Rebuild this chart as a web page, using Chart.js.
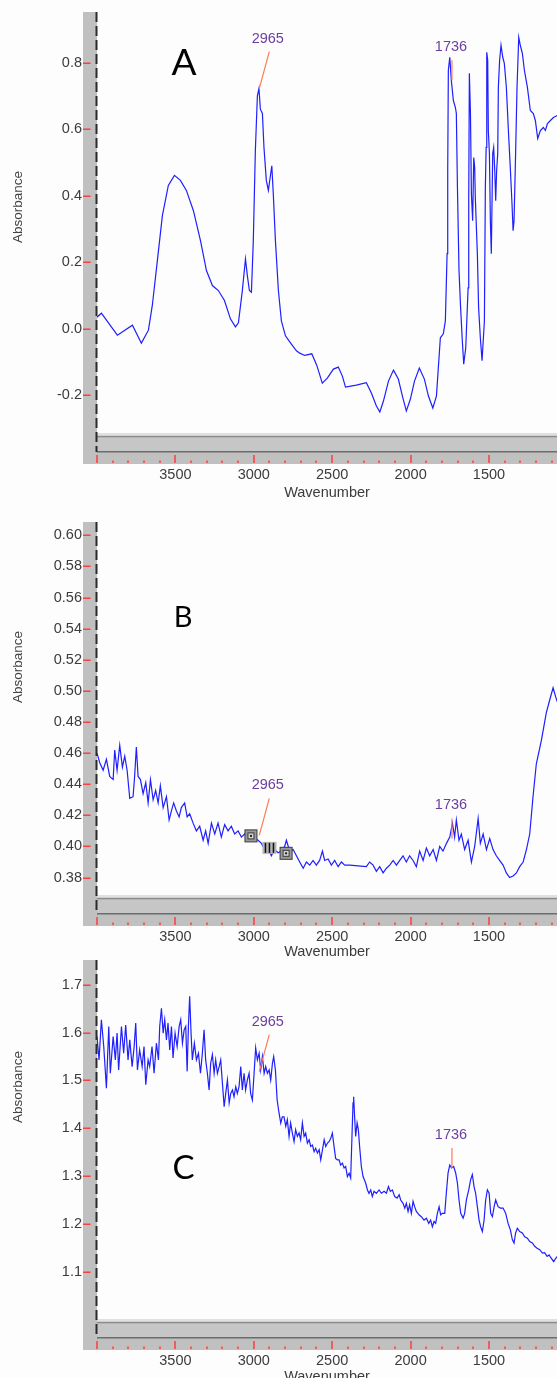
<!DOCTYPE html>
<html>
<head>
<meta charset="utf-8">
<title>IR spectra A, B, C</title>
<script src="https://cdn.jsdelivr.net/npm/chart.js@4.4.1/dist/chart.umd.min.js"></script>
<style>
  html, body { margin: 0; padding: 0; }
  body { width: 557px; height: 1378px; overflow: hidden; position: relative; background: #fdfdfd; }
  canvas { position: absolute; left: 0; }
</style>
</head>
<body>
<canvas id="chart-a" width="557" height="502" style="top:0px"></canvas>
<canvas id="chart-b" width="557" height="461" style="top:500px"></canvas>
<canvas id="chart-c" width="557" height="436" style="top:950px"></canvas>
<script>
// spectrum A
const wavenumbersA = [4000,3972,3870,3774,3717,3672,3647,3615,3583,3545,3506,3468,3430,3385,3340,3302,3264,3226,3187,3149,
  3117,3098,3073,3053,3041,3028,3015,3003,2990,2977,2967,2958,2945,2935,2920,2907,2894,2885,2875,2862,
  2843,2824,2798,2766,2728,2707,2675,2630,2598,2563,2531,2492,2461,2435,2415,2346,2282,2250,2218,2196,
  2173,2141,2109,2078,2052,2027,2001,1975,1944,1912,1886,1858,1835,1810,1791,1778,1767,1763,1759,1750,
  1740,1727,1714,1708,1701,1691,1682,1671,1661,1648,1633,1629,1625,1618,1612,1604,1597,1591,1587,1574,
  1566,1555,1544,1529,1523,1518,1514,1508,1504,1497,1491,1485,1476,1470,1463,1457,1451,1444,1440,1432,
  1423,1412,1402,1389,1376,1363,1353,1346,1340,1330,1321,1310,1300,1287,1274,1255,1236,1217,1204,1189,
  1172,1153,1140,1127,1108,1089,1064];
const absorbanceA = [0.035,0.047,-0.019,0.011,-0.043,-0.004,0.071,0.205,0.34,0.431,0.461,0.446,0.416,0.355,0.265,0.175,0.13,0.115,0.085,0.03,
  0.006,0.018,0.115,0.21,0.16,0.115,0.11,0.265,0.535,0.70,0.722,0.66,0.647,0.545,0.446,0.416,0.46,0.49,0.40,0.265,
  0.115,0.024,-0.021,-0.042,-0.066,-0.073,-0.08,-0.075,-0.11,-0.163,-0.148,-0.121,-0.115,-0.142,-0.175,-0.169,-0.162,-0.193,-0.232,-0.25,
  -0.217,-0.157,-0.124,-0.151,-0.202,-0.247,-0.211,-0.157,-0.118,-0.151,-0.202,-0.238,-0.202,-0.027,-0.015,0.024,0.226,0.476,0.777,0.816,
  0.747,0.686,0.665,0.647,0.425,0.175,0.075,-0.027,-0.106,-0.057,0.123,0.385,0.768,0.647,0.406,0.325,0.515,0.485,0.394,0.226,
  0.063,-0.027,-0.096,0.024,0.425,0.545,0.831,0.807,0.596,0.527,0.325,0.226,0.527,0.545,0.476,0.385,0.476,0.527,0.726,0.807,
  0.852,0.816,0.798,0.726,0.596,0.476,0.376,0.295,0.325,0.527,0.726,0.876,0.852,0.828,0.777,0.726,0.656,0.647,0.626,0.572,
  0.596,0.605,0.596,0.617,0.626,0.635,0.641];

// spectrum B
const wavenumbersB = [4000,3983,3961,3940,3919,3897,3887,3872,3855,3838,3823,3808,3791,3770,3760,3749,3738,3723,3706,3689,
  3674,3659,3642,3626,3610,3596,3578,3557,3540,3525,3511,3494,3476,3462,3441,3425,3409,3387,3366,3345,
  3323,3307,3291,3270,3249,3228,3207,3186,3164,3143,3122,3100,3079,3058,3036,3004,2973,2951,2930,2909,
  2888,2867,2845,2824,2803,2792,2771,2749,2728,2707,2685,2664,2643,2622,2601,2580,2562,2548,2526,2505,
  2484,2462,2441,2420,2388,2282,2261,2239,2218,2197,2175,2154,2133,2111,2090,2069,2048,2027,2006,1984,
  1963,1942,1920,1899,1878,1856,1835,1814,1793,1771,1750,1733,1719,1708,1691,1676,1655,1633,1612,1591,
  1569,1555,1537,1516,1495,1474,1453,1432,1410,1389,1368,1346,1325,1304,1282,1261,1240,1219,1198,1166,
  1134,1113,1091,1074,1064];
const absorbanceB = [0.460,0.454,0.449,0.456,0.445,0.443,0.462,0.449,0.465,0.451,0.458,0.449,0.431,0.432,0.445,0.464,0.445,0.443,0.434,0.441,
  0.428,0.443,0.430,0.436,0.428,0.439,0.425,0.432,0.417,0.423,0.428,0.423,0.419,0.425,0.428,0.419,0.421,0.415,0.410,0.413,
  0.404,0.410,0.402,0.415,0.408,0.415,0.406,0.414,0.410,0.413,0.408,0.410,0.406,0.408,0.405,0.406,0.404,0.402,0.398,0.399,
  0.394,0.398,0.396,0.397,0.400,0.404,0.397,0.398,0.394,0.390,0.386,0.390,0.388,0.391,0.388,0.391,0.397,0.391,0.392,0.388,
  0.391,0.387,0.390,0.388,0.388,0.387,0.390,0.388,0.384,0.387,0.383,0.386,0.388,0.391,0.388,0.391,0.394,0.390,0.394,0.391,
  0.387,0.397,0.391,0.399,0.394,0.398,0.391,0.400,0.397,0.402,0.406,0.415,0.406,0.417,0.404,0.408,0.398,0.404,0.390,0.400,
  0.418,0.402,0.408,0.398,0.405,0.398,0.394,0.391,0.388,0.383,0.380,0.381,0.383,0.387,0.390,0.398,0.408,0.432,0.453,0.468,
  0.486,0.494,0.502,0.496,0.493];

// spectrum C
const wavenumbersC = [4000,3987,3972,3957,3940,3925,3915,3897,3883,3872,3862,3844,3830,3817,3802,3791,3776,3763,3753,3742,
  3728,3712,3700,3689,3674,3664,3649,3636,3621,3608,3600,3589,3578,3568,3557,3547,3536,3525,3515,3502,
  3489,3476,3466,3455,3444,3434,3425,3417,3409,3400,3392,3379,3366,3353,3340,3328,3317,3307,3296,3285,
  3275,3264,3253,3243,3232,3221,3211,3200,3189,3179,3168,3157,3147,3136,3126,3115,3105,3094,3083,3073,
  3062,3052,3041,3030,3020,3009,2998,2988,2977,2966,2956,2945,2934,2924,2913,2902,2892,2881,2873,2862,
  2851,2839,2828,2818,2807,2796,2786,2775,2765,2754,2743,2733,2722,2711,2701,2690,2679,2669,2658,2647,
  2637,2626,2615,2605,2594,2583,2573,2562,2551,2541,2530,2520,2509,2499,2488,2478,2467,2456,2446,2435,
  2424,2414,2403,2392,2382,2373,2367,2363,2356,2350,2341,2333,2325,2314,2303,2286,2275,2265,2254,2244,
  2233,2218,2201,2186,2169,2154,2141,2129,2116,2101,2086,2073,2063,2048,2037,2027,2016,2006,1995,1984,
  1974,1963,1946,1931,1914,1899,1884,1872,1861,1850,1840,1829,1818,1808,1797,1782,1772,1761,1750,1738,
  1725,1712,1701,1691,1680,1665,1655,1644,1629,1617,1606,1595,1585,1574,1563,1553,1542,1531,1521,1510,
  1499,1489,1478,1467,1457,1442,1427,1410,1393,1378,1363,1351,1340,1330,1319,1304,1287,1272,1255,1240,
  1223,1208,1193,1176,1159,1145,1129,1117,1102,1087,1074,1064];
const absorbanceC = [1.592,1.543,1.627,1.571,1.484,1.613,1.515,1.592,1.543,1.599,1.522,1.613,1.557,1.616,1.543,1.585,1.529,1.571,1.620,1.522,
  1.564,1.529,1.571,1.491,1.543,1.529,1.571,1.515,1.578,1.543,1.613,1.651,1.599,1.627,1.585,1.620,1.564,1.613,1.547,1.599,
  1.571,1.613,1.627,1.578,1.606,1.613,1.519,1.613,1.676,1.599,1.543,1.578,1.543,1.557,1.515,1.557,1.606,1.543,1.515,1.480,
  1.536,1.554,1.515,1.543,1.515,1.529,1.543,1.494,1.445,1.473,1.501,1.453,1.473,1.480,1.466,1.487,1.473,1.487,1.529,1.480,
  1.515,1.480,1.501,1.515,1.473,1.459,1.515,1.568,1.543,1.557,1.522,1.550,1.515,1.529,1.515,1.522,1.501,1.536,1.550,1.522,
  1.459,1.432,1.411,1.424,1.424,1.404,1.418,1.383,1.411,1.390,1.372,1.397,1.383,1.390,1.376,1.411,1.383,1.390,1.369,1.376,
  1.362,1.365,1.351,1.358,1.348,1.355,1.334,1.355,1.376,1.362,1.369,1.372,1.379,1.390,1.362,1.337,1.334,1.334,1.323,1.327,
  1.317,1.320,1.299,1.306,1.296,1.390,1.453,1.466,1.418,1.383,1.411,1.397,1.362,1.320,1.299,1.285,1.271,1.264,1.271,1.257,
  1.268,1.264,1.271,1.264,1.268,1.264,1.278,1.268,1.271,1.257,1.254,1.261,1.250,1.243,1.233,1.243,1.226,1.240,1.222,1.247,
  1.236,1.226,1.219,1.215,1.208,1.212,1.201,1.208,1.194,1.205,1.201,1.222,1.236,1.219,1.222,1.222,1.264,1.306,1.323,1.317,
  1.320,1.306,1.285,1.250,1.222,1.212,1.222,1.250,1.271,1.292,1.303,1.278,1.264,1.236,1.208,1.194,1.184,1.208,1.250,1.271,
  1.264,1.222,1.215,1.236,1.250,1.236,1.233,1.233,1.222,1.201,1.187,1.167,1.160,1.181,1.191,1.184,1.181,1.173,1.170,1.163,
  1.160,1.153,1.149,1.146,1.139,1.140,1.132,1.135,1.128,1.121,1.128,1.132];

// labelled peaks, and where the label leader starts on each trace
const peakWavenumbers = [2965, 1736];
const peakAbsA = [0.722, 0.747];
const peakAbsB = [0.4071, 0.4052];
const peakAbsC = [1.5185, 1.317];

// cursor markers left on trace B
const markerWavenumbersB = [3018, 2794];
const markerAbsB = [0.4068, 0.3956];
const cursorWavenumberB = 2900;
const cursorAbsB = 0.3991;

Chart.defaults.font.family = "'Liberation Sans', Arial, sans-serif";

// gray frame, dashed axis, scroll bar, red ticks and labels
const frame = {
  id: 'frame',
  beforeDraw(chart) {
    const ctx = chart.ctx;
    const area = chart.chartArea;
    const base = area.bottom + 31;
    const w = chart.width - area.left;
    ctx.save();
    ctx.fillStyle = '#c0c0c0';
    ctx.fillRect(83, area.top, area.left - 83, base - area.top);
    ctx.fillRect(83, area.bottom, chart.width - 83, base - area.bottom);
    ctx.fillStyle = '#e0e0e0';
    ctx.fillRect(area.left, area.bottom, w, 2.5);
    ctx.fillStyle = '#8a8a8a';
    ctx.fillRect(area.left, area.bottom + 3, w, 1.5);
    ctx.fillStyle = '#c6c6c6';
    ctx.fillRect(area.left, area.bottom + 4.5, w, 13.5);
    ctx.fillStyle = '#6c6c6c';
    ctx.fillRect(area.left, area.bottom + 18, w, 1.5);
    ctx.restore();
  },
  afterDatasetsDraw(chart, args, opts) {
    const ctx = chart.ctx;
    const area = chart.chartArea;
    const x = chart.scales.x;
    const y = chart.scales.y;
    ctx.save();

    // dashed left axis line
    ctx.strokeStyle = '#2a2a2a';
    ctx.lineWidth = 2;
    ctx.setLineDash([10, 4]);
    ctx.beginPath();
    ctx.moveTo(area.left - 0.5, area.top);
    ctx.lineTo(area.left - 0.5, area.bottom + 19);
    ctx.stroke();
    ctx.setLineDash([]);

    // cursor markers (panel B only)
    if (opts.markers) {
      opts.markers.w.forEach(function (mw, i) {
        const px = x.getPixelForValue(mw);
        const py = y.getPixelForValue(opts.markers.v[i]);
        ctx.fillStyle = '#9a9a9a';
        ctx.fillRect(px - 6, py - 6, 12, 12);
        ctx.strokeStyle = '#3a3a3a';
        ctx.lineWidth = 1;
        ctx.strokeRect(px - 6, py - 6, 12, 12);
        ctx.fillStyle = '#d4d4d4';
        ctx.fillRect(px - 3, py - 3, 6, 6);
        ctx.strokeRect(px - 3, py - 3, 6, 6);
        ctx.fillStyle = '#202020';
        ctx.fillRect(px - 1, py - 1, 2, 2);
      });
      const cx = x.getPixelForValue(opts.markers.cw);
      const cy = y.getPixelForValue(opts.markers.cv);
      ctx.fillStyle = '#b4b4b4';
      ctx.fillRect(cx - 7, cy - 6, 14, 12);
      ctx.fillStyle = '#111';
      [-4, 0, 4].forEach(function (d) { ctx.fillRect(cx + d - 0.75, cy - 5, 1.5, 10); });
    }

    // peak labels with leader lines
    const leaderTop = [[10, -37], [0, -20]];
    const labelPos = [[8.5, -50], [-1, -33]];
    ctx.font = '14.5px "Liberation Sans", Arial, sans-serif';
    ctx.textAlign = 'center';
    ctx.textBaseline = 'middle';
    opts.peakW.forEach(function (pw, i) {
      const px = x.getPixelForValue(pw);
      const py = y.getPixelForValue(opts.peakV[i]);
      ctx.strokeStyle = '#ff7a55';
      ctx.lineWidth = 1.2;
      ctx.beginPath();
      ctx.moveTo(px, py);
      ctx.lineTo(px + leaderTop[i][0], py + leaderTop[i][1]);
      ctx.stroke();
      ctx.fillStyle = '#6b3f9e';
      ctx.fillText(String(pw), px + labelPos[i][0], py + labelPos[i][1]);
    });

    // panel letter
    ctx.fillStyle = '#000';
    ctx.font = opts.letterSize + 'px Lato, "Open Sans", sans-serif';
    ctx.textBaseline = 'alphabetic';
    ctx.fillText(opts.letter, opts.letterX, opts.letterY + opts.letterSize * 0.358);

    // y axis title
    ctx.translate(18, opts.titleY);
    ctx.rotate(-Math.PI / 2);
    ctx.fillStyle = '#444';
    ctx.font = '13.5px "Liberation Sans", Arial, sans-serif';
    ctx.textBaseline = 'middle';
    ctx.fillText('Absorbance', 0, 0);
    ctx.restore();
  },
  afterDraw(chart) {
    const ctx = chart.ctx;
    const area = chart.chartArea;
    const base = area.bottom + 31;
    const x = chart.scales.x;
    const y = chart.scales.y;
    ctx.save();
    ctx.strokeStyle = '#ff3d3d';
    ctx.lineWidth = 1.5;
    ctx.beginPath();
    y.ticks.forEach(function (t) {
      const py = Math.round(y.getPixelForValue(t.value)) + 0.25;
      ctx.moveTo(83, py);
      ctx.lineTo(90.5, py);
    });
    x.ticks.forEach(function (t) {
      const px = Math.round(x.getPixelForValue(t.value));
      const major = Math.round(t.value) % 500 === 0;
      ctx.moveTo(px, base - (major ? 9 : 3.5));
      ctx.lineTo(px, base - 1);
    });
    ctx.stroke();
    ctx.restore();
  }
};

function spectrumChart(id, wavenumbers, absorbance, s) {
  const points = wavenumbers.map(function (w, i) {
    return { x: w, y: absorbance[i] };
  });
  return new Chart(document.getElementById(id), {
    type: 'line',
    data: {
      datasets: [{
        data: points,
        borderColor: '#1f1fff',
        borderWidth: 1.2,
        pointRadius: 0,
        tension: 0
      }]
    },
    options: {
      responsive: false,
      animation: false,
      events: [],
      layout: { padding: { top: s.top, left: 0, right: 0, bottom: 0 } },
      plugins: {
        legend: { display: false },
        tooltip: { enabled: false },
        frame: s.frame
      },
      scales: {
        x: {
          type: 'linear',
          reverse: true,
          min: 1066,
          max: 4000,
          afterFit: function (scale) {
            scale.height = s.axisHeight;
            scale.paddingLeft = 0;
            scale.paddingRight = 0;
          },
          grid: { display: false, drawTicks: false },
          border: { display: false },
          ticks: {
            stepSize: 100,
            autoSkip: false,
            maxRotation: 0,
            includeBounds: false,
            padding: 33,
            color: '#3c3c3c',
            font: { size: 14.5 },
            callback: function (v) {
              return (Math.round(v) % 500 === 0 && v < 4000) ? String(Math.round(v)) : '';
            }
          },
          title: {
            display: true,
            text: 'Wavenumber',
            color: '#3c3c3c',
            font: { size: 14.5 },
            padding: 0
          }
        },
        y: {
          min: s.yMin,
          max: s.yMax,
          afterFit: function (scale) {
            scale.width = 97;
            scale.paddingTop = 0;
            scale.paddingBottom = 0;
          },
          grid: { display: false, drawTicks: false },
          border: { display: false },
          ticks: {
            stepSize: s.step,
            includeBounds: false,
            padding: 15,
            color: '#3c3c3c',
            font: { size: 14.5 },
            callback: function (v) { return v.toFixed(s.decimals); }
          }
        }
      }
    },
    plugins: [frame]
  });
}

spectrumChart('chart-a', wavenumbersA, absorbanceA, {
  top: 12, axisHeight: 69, yMin: -0.313, yMax: 0.952, step: 0.2, decimals: 1,
  frame: { peakW: peakWavenumbers, peakV: peakAbsA, letter: 'A', letterX: 184, letterY: 62, letterSize: 37, titleY: 207 }
});

spectrumChart('chart-b', wavenumbersB, absorbanceB, {
  top: 22, axisHeight: 66, yMin: 0.3688, yMax: 0.6086, step: 0.02, decimals: 2,
  frame: {
    peakW: peakWavenumbers, peakV: peakAbsB, letter: 'B', letterX: 183, letterY: 117, letterSize: 29, titleY: 167,
    markers: { w: markerWavenumbersB, v: markerAbsB, cw: cursorWavenumberB, cv: cursorAbsB }
  }
});

spectrumChart('chart-c', wavenumbersC, absorbanceC, {
  top: 10, axisHeight: 67, yMin: 1.001, yMax: 1.752, step: 0.1, decimals: 1,
  frame: { peakW: peakWavenumbers, peakV: peakAbsC, letter: 'C', letterX: 183.5, letterY: 217, letterSize: 33, titleY: 137 }
});
</script>
</body>
</html>
